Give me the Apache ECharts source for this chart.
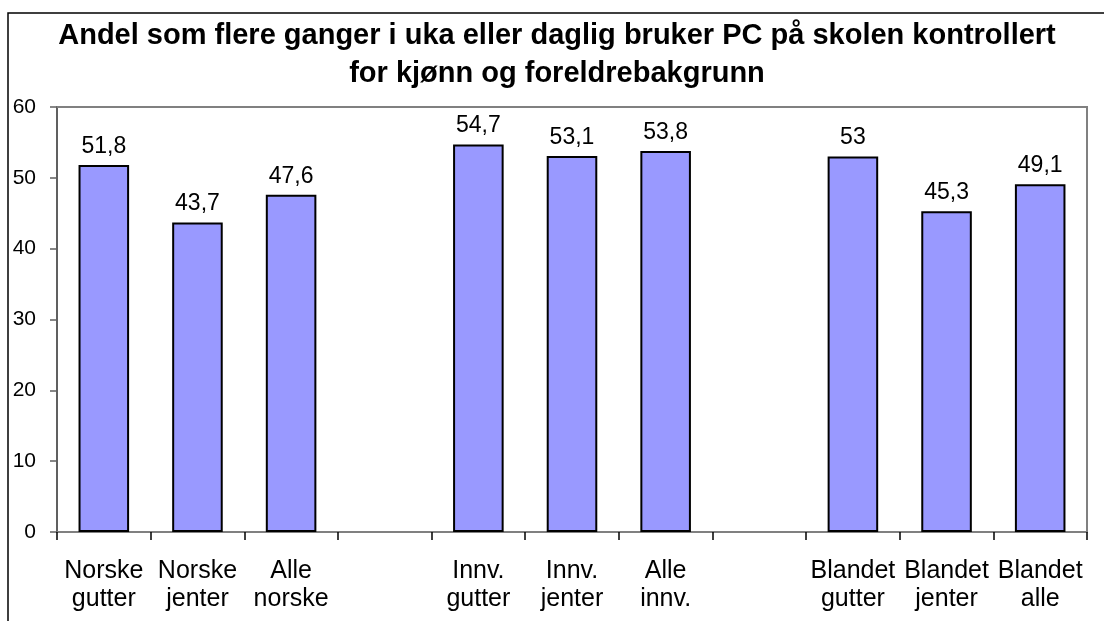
<!DOCTYPE html>
<html>
<head>
<meta charset="utf-8">
<script src="https://cdn.jsdelivr.net/npm/echarts@6/dist/echarts.min.js"></script>
<style>
  html, body { margin: 0; padding: 0; background: #fff; }
  #chart { width: 1104px; height: 621px; }
</style>
</head>
<body>
<div id="chart"></div>
<script>
// Categories (blank entries separate the three groups)
const categories = [
  'Norske\ngutter', 'Norske\njenter', 'Alle\nnorske', '',
  'Innv.\ngutter', 'Innv.\njenter', 'Alle\ninnv.', '',
  'Blandet\ngutter', 'Blandet\njenter', 'Blandet\nalle'
];
// Percent using a PC at school several times a week or daily
const shares = [51.8, 43.7, 47.6, null, 54.7, 53.1, 53.8, null, 53, 45.3, 49.1];
const yTicks = { min: 0, max: 60, interval: 10 };
const titleText = 'Andel som flere ganger i uka eller daglig bruker PC på skolen kontrollert\nfor kjønn og foreldrebakgrunn';

const chart = echarts.init(document.getElementById('chart'), null, { renderer: 'canvas' });
const FONT = 'Liberation Sans, Arial, sans-serif';

chart.setOption({
  animation: false,
  backgroundColor: '#fff',
  title: {
    text: titleText,
    left: 557,
    textAlign: 'center',
    top: 17,
    padding: 0,
    textStyle: {
      fontFamily: FONT, fontSize: 29, fontWeight: 'bold', color: '#000', lineHeight: 38
    }
  },
  graphic: [
    // outer frame of the chart area
    { type: 'polyline', shape: { points: [[8, 621], [8, 13], [1104, 13]] },
      style: { stroke: '#000', lineWidth: 1.5, fill: null }, z: 10 },
    // plot area frame (top and right)
    { type: 'polyline', shape: { points: [[57, 107], [1087, 107], [1087, 532]] },
      style: { stroke: '#808080', lineWidth: 2, fill: null }, z: 1 }
  ],
  grid: { left: 57, right: 17, top: 107, bottom: 89, containLabel: false },
  xAxis: {
    type: 'category',
    data: categories,
    axisLine: { lineStyle: { color: '#808080', width: 2 } },
    axisTick: { show: true, inside: false, length: 8, alignWithLabel: false, lineStyle: { color: '#000', width: 1.5 } },
    axisLabel: {
      interval: 0, margin: 25, fontFamily: FONT, fontSize: 25, color: '#000', lineHeight: 28
    }
  },
  yAxis: {
    type: 'value',
    min: yTicks.min, max: yTicks.max, interval: yTicks.interval,
    axisLine: { show: true, lineStyle: { color: '#606060', width: 2 } },
    axisTick: { show: true, inside: false, length: 7, lineStyle: { color: '#606060', width: 1.5 } },
    splitLine: { show: false },
    axisLabel: { margin: 21, fontFamily: FONT, fontSize: 21, color: '#000' }
  },
  series: [{
    type: 'bar',
    data: shares.map(v => v === null ? '-' : v),
    barCategoryGap: '46%',
    itemStyle: { color: '#9999FF', borderColor: '#000', borderWidth: 2 },
    label: {
      show: true, position: 'top', distance: 7,
      fontFamily: FONT, fontSize: 23, color: '#000',
      formatter: p => String(p.value).replace('.', ',')
    }
  }]
});
</script>
</body>
</html>
